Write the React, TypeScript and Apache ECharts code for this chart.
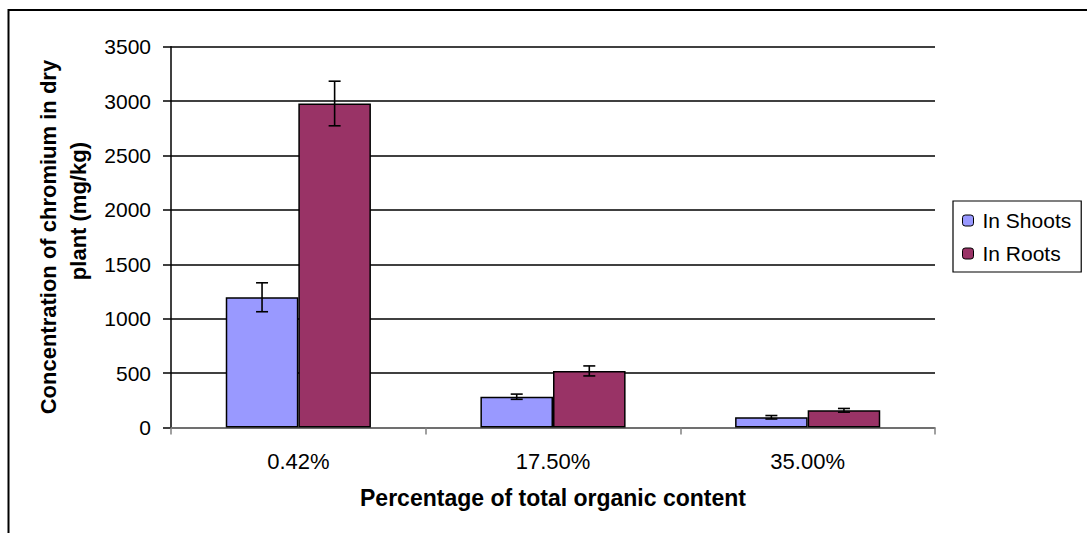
import React, { useEffect, useRef } from "react";
import * as echarts from "echarts";

const categories = ["0.42%", "17.50%", "35.00%"];
const shoots = [1197, 283, 94];
const roots = [2978, 520, 158];
const shootsErr = [133, 24, 16];
const rootsErr = [205, 46, 17];
const yTicks = { min: 0, max: 3500, interval: 500 };
const seriesNames = ["In Shoots", "In Roots"];
const yTitle = ["Concentration of chromium in dry", "plant (mg/kg)"];
const xTitle = "Percentage of total organic content";

const FONT = "'Liberation Sans', Arial, sans-serif";
const CAT_GAP = 0.43;

function errorSeries(name: string, values: number[], errs: number[], side: number) {
  return {
    type: "custom",
    name: name + " error",
    silent: true,
    z: 10,
    data: values.map((v, i) => [i, v, errs[i]]),
    renderItem: (params: any, api: any) => {
      const idx = api.value(0);
      const v = api.value(1);
      const e = api.value(2);
      const band = api.size([1, 0])[0];
      const off = (side * band * (1 - CAT_GAP)) / 4;
      const top = api.coord([idx, v + e]);
      const bot = api.coord([idx, v - e]);
      const x = top[0] + off;
      const cap = 6;
      const st = { stroke: "#000", lineWidth: 1.6 };
      return {
        type: "group",
        children: [
          { type: "line", shape: { x1: x, y1: top[1], x2: x, y2: bot[1] }, style: st },
          { type: "line", shape: { x1: x - cap, y1: top[1], x2: x + cap, y2: top[1] }, style: st },
          { type: "line", shape: { x1: x - cap, y1: bot[1], x2: x + cap, y2: bot[1] }, style: st },
        ],
      };
    },
  };
}

export default function App() {
  const ref = useRef<HTMLDivElement>(null);
  useEffect(() => {
    const chart = echarts.init(ref.current!, null, { renderer: "svg" });
    chart.setOption({
      animation: false,
      backgroundColor: "#fff",
      textStyle: { fontFamily: FONT },
      graphic: [
        {
          type: "rect",
          shape: { x: 8.5, y: 10, width: 1200, height: 700 },
          style: { fill: "none", stroke: "#000", lineWidth: 2 },
          z: 100,
        },
      ],
      grid: { left: 171, right: 152, top: 46.7, bottom: 105.5 },
      legend: {
        orient: "vertical",
        left: 953,
        top: 201,
        padding: [9, 10, 8, 9],
        itemGap: 12,
        itemWidth: 11,
        itemHeight: 11,
        borderColor: "#000",
        borderWidth: 1.2,
        textStyle: { fontFamily: FONT, fontSize: 21, color: "#000", padding: [0, 0, 0, 4] },
        data: [
          { name: seriesNames[0], itemStyle: { color: "#9999FF", borderColor: "#000", borderWidth: 1 } },
          { name: seriesNames[1], itemStyle: { color: "#993366", borderColor: "#000", borderWidth: 1 } },
        ],
      },
      xAxis: {
        type: "category",
        data: categories,
        name: xTitle,
        nameLocation: "middle",
        nameGap: 59,
        nameTextStyle: { fontFamily: FONT, fontSize: 23, fontWeight: "bold", color: "#000" },
        axisLine: { lineStyle: { color: "#808080", width: 1.5 } },
        axisTick: { show: true, length: 7, lineStyle: { color: "#808080", width: 1.5 } },
        axisLabel: { fontFamily: FONT, fontSize: 22, color: "#000", margin: 23 },
      },
      yAxis: {
        type: "value",
        min: yTicks.min,
        max: yTicks.max,
        interval: yTicks.interval,
        name: "{a|" + yTitle[0] + "}\n{b|" + yTitle[1] + "}",
        nameLocation: "middle",
        nameRotate: 90,
        nameGap: 77,
        nameTextStyle: {
          fontFamily: FONT,
          fontSize: 22,
          fontWeight: "bold",
          color: "#000",
          lineHeight: 30,
          rich: {
            a: { fontFamily: FONT, fontSize: 22, fontWeight: "bold", color: "#000", lineHeight: 30 },
            b: {
              fontFamily: FONT,
              fontSize: 22,
              fontWeight: "bold",
              color: "#000",
              lineHeight: 30,
              padding: [0, 0, 0, 52],
            },
          },
        },
        axisLine: { show: true, lineStyle: { color: "#000", width: 1.5 } },
        axisTick: { show: true, length: 8, lineStyle: { color: "#000", width: 1.5 } },
        axisLabel: {
          fontFamily: FONT,
          fontSize: 21,
          color: "#000",
          margin: 20,
          formatter: (v: number) => String(v),
        },
        splitLine: { show: true, lineStyle: { color: "#000", width: 1.5 } },
      },
      series: [
        {
          type: "bar",
          name: seriesNames[0],
          data: shoots,
          barGap: "0%",
          barCategoryGap: CAT_GAP * 100 + "%",
          itemStyle: { color: "#9999FF", borderColor: "#000", borderWidth: 1.5 },
        },
        {
          type: "bar",
          name: seriesNames[1],
          data: roots,
          barGap: "0%",
          barCategoryGap: CAT_GAP * 100 + "%",
          itemStyle: { color: "#993366", borderColor: "#000", borderWidth: 1.5 },
        },
        errorSeries(seriesNames[0], shoots, shootsErr, -1),
        errorSeries(seriesNames[1], roots, rootsErr, 1),
      ],
    });
    return () => chart.dispose();
  }, []);
  return (
    <div
      ref={ref}
      style={{ position: "absolute", left: 0, top: 0, width: 1087, height: 533 }}
    />
  );
}
